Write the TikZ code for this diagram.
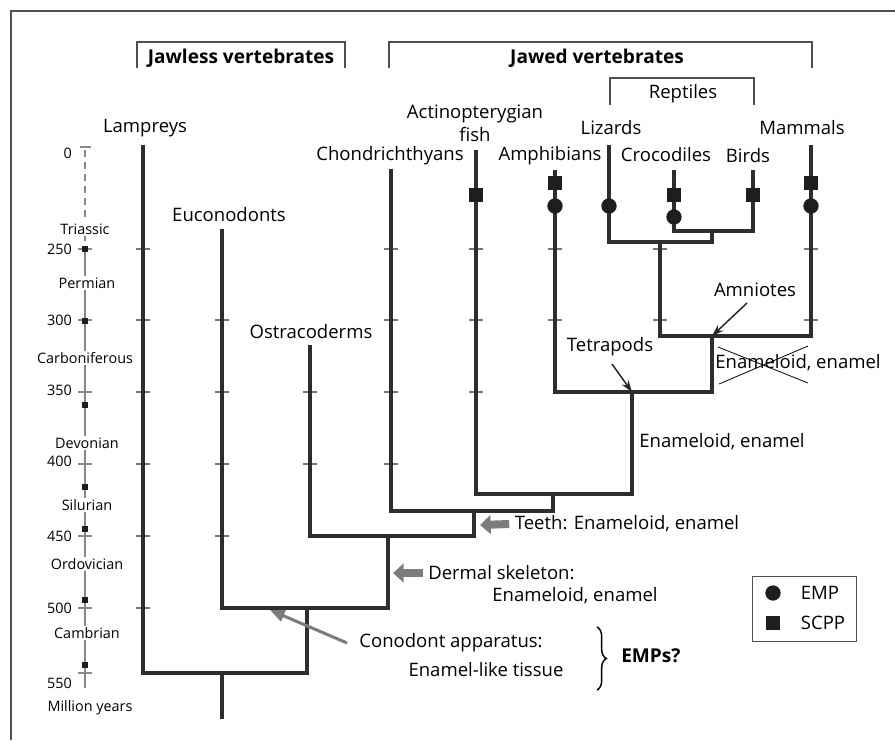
\documentclass[tikz,border=0pt]{standalone}
\usepackage{fontspec}
\setmainfont{Open Sans}
\usetikzlibrary{arrows.meta,decorations.pathreplacing}
\definecolor{branchc}{HTML}{2E2E2E}
\definecolor{tickc}{HTML}{777777}
\definecolor{axisc}{HTML}{888888}
\definecolor{framec}{HTML}{505050}
\definecolor{hintc}{HTML}{7C7C7C}
\definecolor{markc}{HTML}{1E1E1E}
\begin{document}
\begin{tikzpicture}[x=0.75pt,y=-0.75pt,
  branch/.style={draw=branchc,line width=2.3pt,line join=miter,line cap=rect},
  tickmark/.style={draw=tickc,line width=1pt},
  lbl/.style={font=\fontsize{13.9}{16}\selectfont,inner sep=0pt,text=black},
  head/.style={font=\fontsize{14.3}{16}\selectfont\bfseries,inner sep=0pt},
  tlbl/.style={font=\fontsize{10.8}{12}\selectfont,inner sep=1pt,fill=white},
  tnum/.style={font=\fontsize{10.8}{12}\selectfont,inner sep=0pt,anchor=east},
  empmark/.style={circle,fill=markc,minimum size=11.5pt,inner sep=0pt},
  scppmark/.style={rectangle,fill=markc,minimum size=10.5pt,inner sep=0pt},
  tsq/.style={rectangle,fill=markc,minimum size=5pt,inner sep=0pt},
  bracket/.style={draw=framec,line width=1.2pt},
  fatarrow/.style={draw=hintc,line width=6pt,-{Triangle[length=8pt,width=14pt]}},
  thinarrow/.style={draw=hintc,line width=2.3pt,-{Triangle[length=11pt,width=9pt]}},
  blackarrow/.style={draw=black!85,line width=1.1pt,-{Stealth[length=9pt,width=6pt]}}]
\useasboundingbox (0,0) rectangle (895,740);

% frame
\draw[framec,line width=1pt] (11,740) -- (11,11) -- (895,11);

% group brackets and headings
\draw[bracket] (137,68) -- (137,42) -- (345,42) -- (345,68);
\node[head] (jawless) at (241,58) {Jawless vertebrates};
\draw[bracket] (389,68) -- (389,42) -- (812,42) -- (812,68);
\node[head] (jawed) at (597,58) {Jawed vertebrates};
\draw[bracket] (610,105) -- (610,78) -- (754,78) -- (754,105);
\node[lbl] (reptiles) at (683,94) {Reptiles};

% time axis
\draw[axisc,line width=1.1pt,dashed,dash pattern=on 5pt off 4pt] (85,150) -- (85,249);
\draw[axisc,line width=1.1pt] (85,249) -- (85,688);
\draw[axisc,line width=1pt] (80,147) -- (91,147);
\foreach \ty in {249,320,392,464,536,608,673}
  \draw[axisc,line width=1pt] (78,\ty) -- (92,\ty);
\foreach \ty in {249,321,405,487,529,600,665}
  \node[tsq] at (85,\ty) {};
\node[tlbl] (triassic) at (85,229) {Triassic};
\node[tlbl] (permian) at (87,283) {Permian};
\node[tlbl] (carbon) at (85,358) {Carboniferous};
\node[tlbl] (devonian) at (87,443) {Devonian};
\node[tlbl] (silurian) at (87,505) {Silurian};
\node[tlbl] (ordovician) at (87,564) {Ordovician};
\node[tlbl] (cambrian) at (87,633) {Cambrian};
\node[tlbl,fill=none] (myears) at (90,708) {Million years};
\node[tnum] (m0) at (72,153) {0};
\node[tnum] (m250) at (72,249) {250};
\node[tnum] (m300) at (72,320) {300};
\node[tnum] (m350) at (72,390) {350};
\node[tnum] (m400) at (72,461) {400};
\node[tnum] (m450) at (72,536) {450};
\node[tnum] (m500) at (72,608) {500};
\node[tnum] (m550) at (72,683) {550};

% time ticks across the lineages
\foreach \tx/\tys in {143/{249,320,392,464,536,608},222/{320,392,464,536},
  310/{392,464},391/{249,320,392,464},476/{249,320,392},555/{249,320},
  660/{249,320},811/{249,320}}
  \foreach \ty in \tys
    \draw[tickmark] (\tx-7,\ty) -- (\tx+7,\ty);

% tips
\coordinate (tLam) at (143,147);
\coordinate (tEuc) at (222,231);
\coordinate (tOst) at (310,347);
\coordinate (tCho) at (391,171);
\coordinate (tAct) at (476,152);
\coordinate (tAmp) at (555,172);
\coordinate (tLiz) at (609,147);
\coordinate (tCro) at (674,172);
\coordinate (tBir) at (753,172);
\coordinate (tMam) at (811,147);
% internal nodes
\coordinate (nArc) at (712,231);
\coordinate (nRep) at (660,242);
\coordinate (nAmn) at (712,336);
\coordinate (nTet) at (632,392);
\coordinate (nOst) at (553,494);
\coordinate (nGna) at (474,511);
\coordinate (nDer) at (388,536);
\coordinate (nCon) at (307,608);
\coordinate (nRoot) at (222,673);
\coordinate (rootEnd) at (222,717);

% tree
\draw[branch] (tCro) |- (nArc) -| (tBir);
\draw[branch] (tLiz) |- (nRep) -| (nArc);
\draw[branch] (nRep) |- (nAmn) -| (tMam);
\draw[branch] (tAmp) |- (nTet) -| (nAmn);
\draw[branch] (tAct) |- (nOst) -| (nTet);
\draw[branch] (tCho) |- (nGna) -| (nOst);
\draw[branch] (tOst) |- (nDer) -| (nGna);
\draw[branch] (tEuc) |- (nCon) -| (nDer);
\draw[branch] (tLam) |- (nRoot) -| (nCon);
\draw[branch] (nRoot) -- (rootEnd);

% protein markers
\node[scppmark] (sAct) at (476,195) {};
\node[scppmark] (sAmp) at (555,183) {};
\node[empmark] (eAmp) at (555,206) {};
\node[empmark] (eLiz) at (609,206) {};
\node[scppmark] (sCro) at (674,195) {};
\node[empmark] (eCro) at (674,217) {};
\node[scppmark] (sBir) at (753,195) {};
\node[scppmark] (sMam) at (811,183) {};
\node[empmark] (eMam) at (811,206) {};

% taxon labels
\node[lbl] (lamp) at (145,128) {Lampreys};
\node[lbl] (euco) at (229,215) {Euconodonts};
\node[lbl] (ostr) at (311,332) {Ostracoderms};
\node[lbl] (chon) at (390,156) {Chondrichthyans};
\node[lbl,align=center,font=\fontsize{13.9}{17.2}\selectfont] (acti) at (475,123) {Actinopterygian\\fish};
\node[lbl] (amph) at (550,156) {Amphibians};
\node[lbl] (liza) at (611,128) {Lizards};
\node[lbl] (croc) at (666,155) {Crocodiles};
\node[lbl] (bird) at (748,156) {Birds};
\node[lbl] (mamm) at (802,128) {Mammals};

% clade annotations
\node[lbl] (amnio) at (755,290) {Amniotes};
\draw[blackarrow] (747,303) -- (nAmn);
\node[lbl] (tetra) at (610,347) {Tetrapods};
\draw[blackarrow] (612,364) -- (nTet);
\node[lbl] (lost) at (798,363) {Enameloid, enamel};
\draw[black,line width=0.6pt] (718,347) -- (808,383);
\draw[black,line width=0.6pt] (719,384) -- (808,346);
\node[lbl] (gain) at (722,442) {Enameloid, enamel};

\node[lbl] (teeth) at (627,524) {Teeth: Enameloid, enamel};
\coordinate (teethTip) at (480,525);
\draw[fatarrow] ([xshift=-4pt]teeth.west) -- (teethTip);
\node[lbl,anchor=west] (derm) at (428,573) {Dermal skeleton:};
\node[lbl] (derm2) at (575,596) {Enameloid, enamel};
\coordinate (dermTip) at (393,573);
\draw[fatarrow] ([xshift=-4pt]derm.west) -- (dermTip);

\node[lbl] (cono) at (451,643) {Conodont apparatus:};
\node[lbl] (cono2) at (486,670) {Enamel-like tissue};
\coordinate (conoTip) at (270,610);
\draw[thinarrow] ([xshift=-9pt]cono.west) -- (conoTip);
\draw[black,line width=1.1pt,decorate,decoration={brace,amplitude=7pt}] (597,627) -- (597,690);
\node[head,anchor=west] (emps) at (621,656) {EMPs?};

% legend
\node[draw=framec,line width=1.2pt,minimum width=78pt,minimum height=49pt,inner sep=0pt] (legend) at (804.5,609) {};
\node[empmark] (legE) at (773,593) {};
\node[scppmark] (legS) at (773,623) {};
\node[lbl] (legEt) at (820,593) {EMP};
\node[lbl] (legSt) at (823,623) {SCPP};
\end{tikzpicture}
\end{document}
